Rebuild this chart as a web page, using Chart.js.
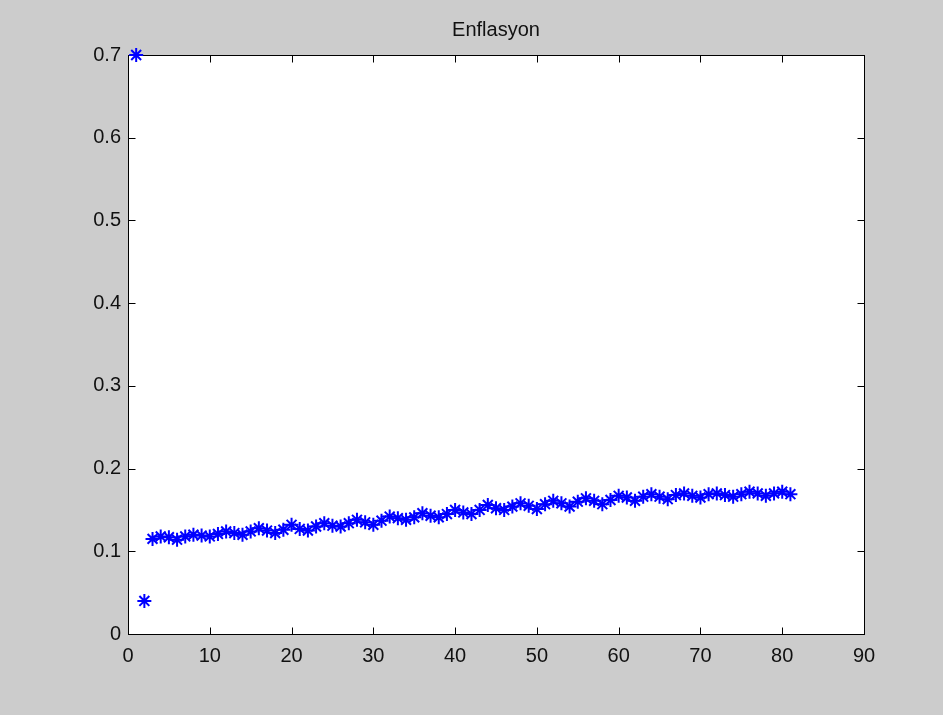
<!DOCTYPE html>
<html>
<head>
<meta charset="utf-8">
<script src="https://cdn.jsdelivr.net/npm/chart.js@4/dist/chart.umd.min.js"></script>
<style>
html,body{margin:0;padding:0;background:#cccccc;}
#wrap{width:943px;height:715px;}
</style>
</head>
<body>
<div id="wrap"><canvas id="c" width="943" height="715"></canvas></div>
<script>
const title = "Enflasyon";
const xTicks = [0,10,20,30,40,50,60,70,80,90];
const yTicks = [0,0.1,0.2,0.3,0.4,0.5,0.6,0.7];
const startX = [1,2];
const startY = [0.70,0.04];
const mainX = [3,4,5,6,7,8,9,10,11,12,13,14,15,16,17,18,19,20,21,22,23,24,25,26,27,28,29,30,31,32,33,34,35,36,37,38,39,40,41,42,43,44,45,46,47,48,49,50,51,52,53,54,55,56,57,58,59,60,61,62,63,64,65,66,67,68,69,70,71,72,73,74,75,76,77,78,79,80,81];
const mainY = [0.115,0.118,0.117,0.114,0.118,0.120,0.119,0.118,0.121,0.124,0.122,0.120,0.124,0.128,0.125,0.122,0.126,0.132,0.127,0.125,0.130,0.134,0.131,0.130,0.134,0.138,0.135,0.132,0.137,0.142,0.140,0.138,0.141,0.146,0.143,0.141,0.145,0.150,0.147,0.145,0.150,0.156,0.152,0.150,0.154,0.158,0.155,0.151,0.157,0.161,0.158,0.154,0.160,0.164,0.161,0.157,0.162,0.167,0.165,0.161,0.166,0.169,0.166,0.163,0.168,0.170,0.167,0.165,0.169,0.170,0.168,0.166,0.169,0.172,0.170,0.167,0.170,0.172,0.169];

const toPts = (xs, ys) => xs.map((x,i)=>({x:x,y:ys[i]}));
const FONT = 'Arial, "Liberation Sans", sans-serif';

const boxPlugin = {
  id:'box',
  beforeDraw(chart){
    const {ctx, chartArea:a} = chart;
    ctx.save();
    ctx.fillStyle='#ffffff';
    ctx.fillRect(a.left,a.top,a.right-a.left,a.bottom-a.top);
    ctx.restore();
  },
  beforeDatasetsDraw(chart){
    const {ctx, chartArea:a, scales} = chart;
    ctx.save();
    ctx.strokeStyle='#000000';
    ctx.lineWidth=1;
    const L=Math.round(a.left)+0.5, R=Math.round(a.right)+0.5, T=Math.round(a.top)+0.5, B=Math.round(a.bottom)+0.5;
    ctx.strokeRect(L,T,R-L,B-T);
    const len=7;
    ctx.beginPath();
    xTicks.forEach(v=>{
      const p=Math.round(scales.x.getPixelForValue(v))+0.5;
      ctx.moveTo(p,B); ctx.lineTo(p,B-len);
      ctx.moveTo(p,T); ctx.lineTo(p,T+len);
    });
    yTicks.forEach(v=>{
      const p=Math.round(scales.y.getPixelForValue(v))+0.5;
      ctx.moveTo(L,p); ctx.lineTo(L+len,p);
      ctx.moveTo(R,p); ctx.lineTo(R-len,p);
    });
    ctx.stroke();
    ctx.fillStyle='#111111';
    ctx.font='20px '+FONT;
    ctx.textAlign='center';
    ctx.textBaseline='middle';
    ctx.fillText(title,(a.left+a.right)/2,30);
    ctx.restore();
  }
};

new Chart(document.getElementById('c'), {
  type:'scatter',
  data:{
    datasets:[
      {data:toPts(startX,startY), showLine:false, clip:false, pointStyle:'star', pointRadius:7, pointBorderWidth:2, borderColor:'#0000ff', backgroundColor:'#0000ff'},
      {data:toPts(mainX,mainY), showLine:true, clip:false, stepped:'after', borderWidth:1.5, pointStyle:'star', pointRadius:7, pointBorderWidth:2, borderColor:'#0000ff', backgroundColor:'#0000ff'}
    ]
  },
  plugins:[boxPlugin],
  options:{
    responsive:false,
    animation:false,
    devicePixelRatio:1,
    layout:{padding:{left:0,right:79,top:55,bottom:0}},
    plugins:{
      legend:{display:false},
      tooltip:{enabled:false},
      title:{display:false}
    },
    scales:{
      x:{type:'linear',min:0,max:90,
        afterBuildTicks(s){s.ticks=xTicks.map(v=>({value:v}));},
        afterFit(s){s.height=81;},
        grid:{display:false,drawTicks:false,tickLength:0},border:{display:false},
        ticks:{color:'#111111',padding:10,maxRotation:0,font:{family:FONT,size:20}}
      },
      y:{type:'linear',min:0,max:0.7,
        afterBuildTicks(s){s.ticks=yTicks.map(v=>({value:v}));},
        afterFit(s){s.width=128;},
        grid:{display:false,drawTicks:false,tickLength:0},border:{display:false},
        ticks:{color:'#111111',padding:7,font:{family:FONT,size:20},callback:v=>(v===0?'0':v.toFixed(1))}
      }
    }
  }
});
</script>
</body>
</html>
